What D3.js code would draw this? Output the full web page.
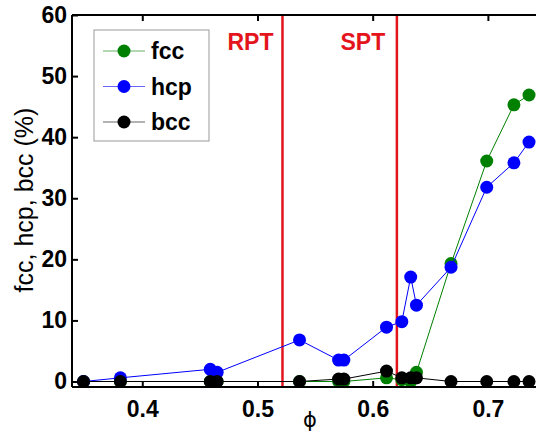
<!DOCTYPE html>
<html>
<head>
<meta charset="utf-8">
<script src="https://cdn.jsdelivr.net/npm/d3@7"></script>
<style>
  body { margin: 0; background: #fff; }
  text { font-family: "Liberation Sans", Arial, sans-serif; }
</style>
</head>
<body>
<div id="chart"></div>
<script>
// packing fraction of each sample
var phi = [0.349, 0.381, 0.459, 0.465, 0.5365, 0.5704, 0.575, 0.612, 0.6253, 0.633, 0.638, 0.668, 0.699, 0.7226, 0.7357];
// crystal fractions (%)
var fcc = [0, 0, 0, 0, 0, 0, 0, 0.6, 0.3, 0, 1.5, 19.3, 36.1, 45.3, 46.9];
var hcp = [0, 0.6, 2.0, 1.5, 6.8, 3.5, 3.5, 8.9, 9.8, 17.1, 12.5, 18.7, 31.8, 35.8, 39.2];
var bcc = [0, 0, 0, 0, 0, 0.4, 0.4, 1.7, 0.6, 0.6, 0.6, 0, 0, 0, 0];

var xTicks = [0.4, 0.5, 0.6, 0.7];
var yTicks = [0, 10, 20, 30, 40, 50, 60];

// transition markers
var transitions = [{name: "RPT", x: 0.5217}, {name: "SPT", x: 0.621}];

var series = [
  {name: "fcc", values: fcc, color: "#008000"},
  {name: "hcp", values: hcp, color: "#0000ff"},
  {name: "bcc", values: bcc, color: "#000000"}
];

var W = 536, H = 432;
var pLeft = 72, pRight = 538, pTop = 15, pBottom = 387;

var svg = d3.select("#chart").append("svg")
  .attr("width", W)
  .attr("height", H);

var x = d3.scaleLinear().domain([0.339, 0.7435]).range([pLeft, pRight]);
var y = d3.scaleLinear().domain([-0.9, 60]).range([pBottom, pTop]);

// transition lines
transitions.forEach(function(t) {
  svg.append("line")
    .attr("x1", x(t.x)).attr("x2", x(t.x))
    .attr("y1", pTop).attr("y2", pBottom)
    .attr("stroke", "#e3141c")
    .attr("stroke-width", 2.5);
});
svg.append("text").attr("x", x(transitions[0].x) - 32).attr("y", 50)
  .attr("text-anchor", "middle").attr("fill", "#e3141c")
  .style("font-size", "23px").style("font-weight", "bold")
  .text(transitions[0].name);
svg.append("text").attr("x", x(transitions[1].x) - 34).attr("y", 50)
  .attr("text-anchor", "middle").attr("fill", "#e3141c")
  .style("font-size", "23px").style("font-weight", "bold")
  .text(transitions[1].name);

// data lines + markers
var line = d3.line()
  .x(function(d) { return x(d[0]); })
  .y(function(d) { return y(d[1]); });

series.forEach(function(s) {
  var pts = phi.map(function(p, i) { return [p, s.values[i]]; });
  svg.append("path")
    .datum(pts)
    .attr("fill", "none")
    .attr("stroke", s.color)
    .attr("stroke-width", 1)
    .attr("d", line);
  svg.selectAll(null)
    .data(pts)
    .enter().append("circle")
      .attr("cx", function(d) { return x(d[0]); })
      .attr("cy", function(d) { return y(d[1]); })
      .attr("r", 6.5)
      .attr("fill", s.color);
});

// axes box
svg.append("line").attr("x1", pLeft).attr("x2", pRight).attr("y1", pTop).attr("y2", pTop)
  .attr("stroke", "#000").attr("stroke-width", 2);
svg.append("line").attr("x1", pLeft).attr("x2", pRight).attr("y1", pBottom).attr("y2", pBottom)
  .attr("stroke", "#000").attr("stroke-width", 2);
svg.append("line").attr("x1", pLeft).attr("x2", pLeft).attr("y1", pTop).attr("y2", pBottom)
  .attr("stroke", "#000").attr("stroke-width", 2);

// bottom axis (inward ticks)
var xAxis = svg.append("g")
  .attr("transform", "translate(0," + pBottom + ")")
  .call(d3.axisBottom(x).tickValues(xTicks).tickSizeInner(-6).tickSizeOuter(0).tickPadding(14).tickFormat(d3.format(".1f")));
xAxis.select(".domain").remove();
xAxis.selectAll("line").attr("stroke-width", 2);
xAxis.selectAll("text").style("font-size", "23px").style("font-weight", "bold")
  .style("font-family", "Liberation Sans, Arial, sans-serif").attr("fill", "#000");

// top ticks
svg.append("g")
  .attr("transform", "translate(0," + pTop + ")")
  .call(d3.axisTop(x).tickValues(xTicks).tickSizeInner(-6).tickSizeOuter(0).tickFormat(""))
  .call(function(g) { g.select(".domain").remove(); g.selectAll("line").attr("stroke-width", 2); });

// left axis
var yAxis = svg.append("g")
  .attr("transform", "translate(" + pLeft + ",0)")
  .call(d3.axisLeft(y).tickValues(yTicks).tickSizeInner(-6).tickSizeOuter(0).tickPadding(5));
yAxis.select(".domain").remove();
yAxis.selectAll("line").attr("stroke-width", 2);
yAxis.selectAll("text").style("font-size", "23px").style("font-weight", "bold")
  .style("font-family", "Liberation Sans, Arial, sans-serif").attr("fill", "#000");

// axis titles
svg.append("text")
  .attr("transform", "translate(33,200) rotate(-90)")
  .attr("text-anchor", "middle")
  .style("font-size", "25px")
  .text("fcc, hcp, bcc (%)");

svg.append("text")
  .attr("x", 310).attr("y", 427)
  .attr("text-anchor", "middle")
  .style("font-family", "DejaVu Sans, sans-serif")
  .style("font-size", "21px")
  .text("\u03D5");

// legend
var lg = svg.append("g");
lg.append("rect").attr("x", 94).attr("y", 30).attr("width", 115).attr("height", 111)
  .attr("fill", "#fff").attr("stroke", "#999").attr("stroke-width", 1);
series.forEach(function(s, i) {
  var ly = 51 + i * 35.5;
  lg.append("line").attr("x1", 103).attr("x2", 145).attr("y1", ly).attr("y2", ly)
    .attr("stroke", s.color).attr("stroke-width", 1).attr("stroke-opacity", 0.6);
  lg.append("circle").attr("cx", 124).attr("cy", ly).attr("r", 6.5).attr("fill", s.color);
  lg.append("text").attr("x", 151).attr("y", ly + 8)
    .style("font-size", "23px").style("font-weight", "bold")
    .text(s.name);
});
</script>
</body>
</html>
